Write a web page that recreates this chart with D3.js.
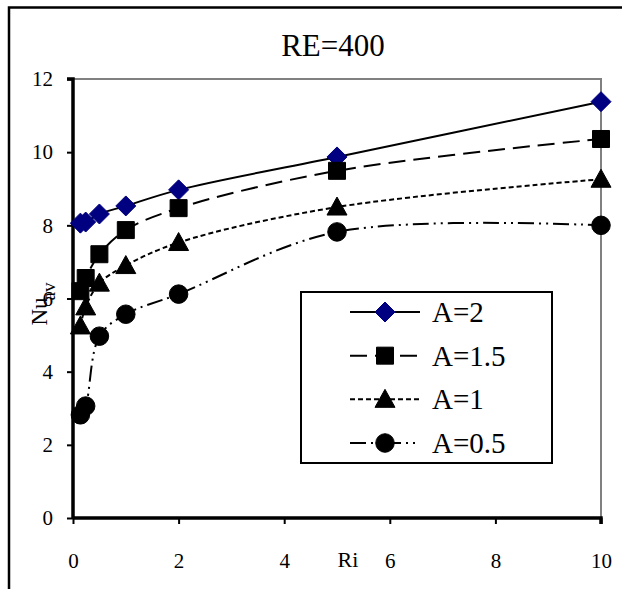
<!DOCTYPE html>
<html><head><meta charset="utf-8">
<script src="https://cdn.jsdelivr.net/npm/d3@7"></script>
<style>body{margin:0;background:#fff}svg{display:block}</style>
</head><body>
<svg id="c" width="622" height="589"></svg>
<script>
const riValues = [0.14, 0.24, 0.5, 1, 2, 5, 10];
const seriesNames = ["A=2", "A=1.5", "A=1", "A=0.5"];
const nuA2   = [8.06, 8.09, 8.31, 8.53, 8.97, 9.87, 11.38];
const nuA15  = [6.20, 6.56, 7.21, 7.87, 8.47, 9.49, 10.36];
const nuA1   = [5.25, 5.77, 6.42, 6.90, 7.53, 8.50, 9.26];
const nuA05  = [2.82, 3.06, 4.97, 5.57, 6.12, 7.82, 8.00];
const xTicks = [0, 2, 4, 6, 8, 10];
const yTicks = [0, 2, 4, 6, 8, 10, 12];

const FONT = '"Liberation Serif"';
const svg = d3.select("#c");
const x = d3.scaleLinear().domain([0, 10]).range([73, 601]);
const y = d3.scaleLinear().domain([0, 12]).range([518, 79]);

// outer frame
svg.append("rect").attr("x", 9).attr("y", 7.5).attr("width", 700).attr("height", 700)
  .attr("fill", "none").attr("stroke", "#000").attr("stroke-width", 2.5);

// title
svg.append("text").attr("x", 333).attr("y", 56).attr("text-anchor", "middle")
  .style("font-family", FONT).style("font-size", "31px").text("RE=400");

// plot border top/right
svg.append("path").attr("d", `M${x(0)},${y(12)}H${x(10)}V${y(0)}`)
  .attr("fill", "none").attr("stroke", "#808080").attr("stroke-width", 2);

// axes
const yAxis = d3.axisLeft(y).tickValues(yTicks).tickSize(6).tickPadding(14);
const gy = svg.append("g").attr("transform", `translate(${x(0)},0)`).call(yAxis);
const xAxis = d3.axisBottom(x).tickValues(xTicks).tickSize(6).tickPadding(29);
const gx = svg.append("g").attr("transform", `translate(0,${y(0)})`).call(xAxis);
[gx, gy].forEach(g => {
  g.attr("font-family", null).style("font-family", FONT);
  g.select(".domain").attr("stroke", "#000").attr("stroke-width", 3.5);
  g.selectAll(".tick line").attr("stroke", "#000").attr("stroke-width", 2);
  g.selectAll(".tick text").style("font-family", FONT).style("font-size", "21px").attr("fill", "#000");
});
gy.select(".domain").attr("d", `M-6,${y(12)}H0V${y(0)}`);
gx.select(".domain").attr("d", `M${x(0)},0H${x(10)}V6`);

// axis titles
svg.append("text").attr("x", 348).attr("y", 567).attr("text-anchor", "middle")
  .style("font-family", FONT).style("font-size", "22px").text("Ri");
const yt = svg.append("text").attr("transform", "translate(47,304) rotate(-90)")
  .attr("text-anchor", "middle").style("font-family", FONT).style("font-size", "23px");
yt.append("tspan").text("Nu");
yt.append("tspan").attr("dy", 8).attr("dx", -3).style("font-size", "19px").text("av");

const series = [
  {name: seriesNames[0], vals: nuA2, dash: null, marker: "diamond", color: "#000080"},
  {name: seriesNames[1], vals: nuA15, dash: "17,8", marker: "square", color: "#000"},
  {name: seriesNames[2], vals: nuA1, dash: "5,3", marker: "triangle", color: "#000"},
  {name: seriesNames[3], vals: nuA05, dash: "16,5,2,5,2,5", marker: "circle", color: "#000"}
];
function symPath(m) {
  if (m === "diamond") return "M0,-10L10,0L0,10L-10,0Z";
  if (m === "square") return "M-8.5,-8.5H8.5V8.5H-8.5Z";
  if (m === "triangle") return "M0,-10L10,8L-10,8Z";
  return d3.symbol(d3.symbolCircle, 270)();
}

const line = d3.line().x(d => x(d[0])).y(d => y(d[1])).curve(d3.curveCatmullRom.alpha(0.5));
series.forEach(s => {
  const pts = riValues.map((r, i) => [r, s.vals[i]]);
  svg.append("path").attr("d", line(pts)).attr("fill", "none").attr("stroke", "#000")
    .attr("stroke-width", 2).attr("stroke-dasharray", s.dash);
});
series.forEach(s => {
  svg.append("g").selectAll("path").data(riValues.map((r, i) => [r, s.vals[i]])).join("path")
    .attr("transform", d => `translate(${x(d[0])},${y(d[1])})`)
    .attr("d", symPath(s.marker)).attr("fill", s.color).attr("stroke", s.color).attr("stroke-width", 1);
});

// legend
const lg = svg.append("g");
lg.append("rect").attr("x", 301).attr("y", 292).attr("width", 251).attr("height", 171)
  .attr("fill", "#fff").attr("stroke", "#000").attr("stroke-width", 2);
const rowY = d3.scalePoint().domain(seriesNames).range([312, 443]);
series.forEach(s => {
  const ry = rowY(s.name);
  lg.append("line").attr("x1", 350).attr("x2", 420).attr("y1", ry).attr("y2", ry)
    .attr("stroke", "#000").attr("stroke-width", 2).attr("stroke-dasharray", s.dash);
  lg.append("path").attr("transform", `translate(385,${ry})`).attr("d", symPath(s.marker))
    .attr("fill", s.color).attr("stroke", s.color);
  lg.append("text").attr("x", 432).attr("y", ry + 10).style("font-family", FONT)
    .style("font-size", "29px").text(s.name);
});
</script>
</body></html>
